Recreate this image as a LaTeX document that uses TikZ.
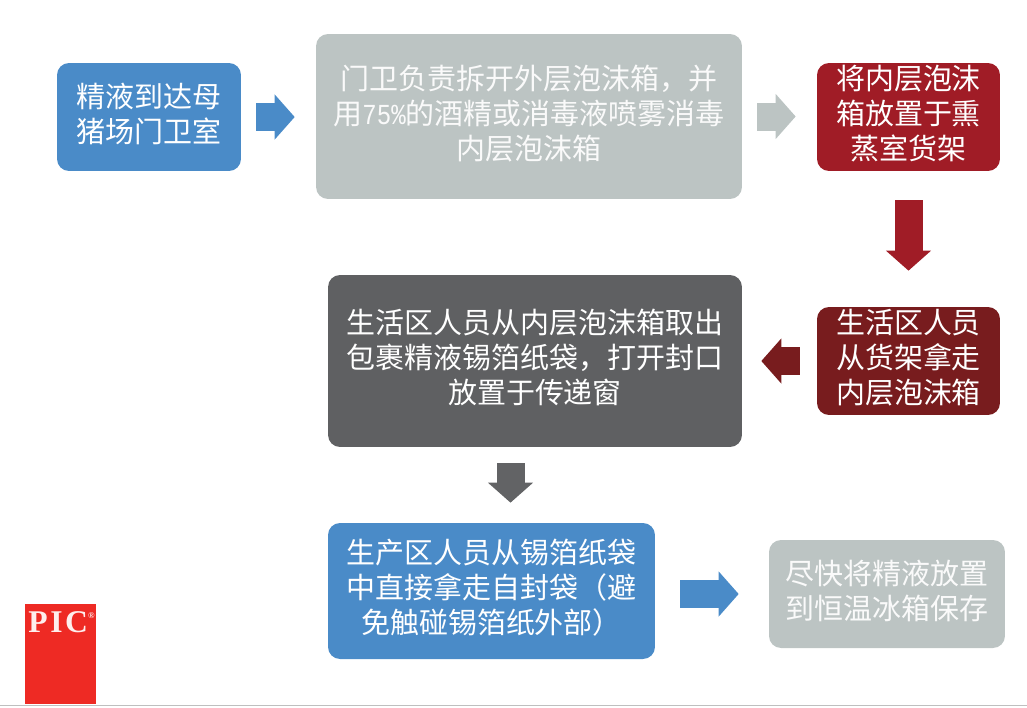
\documentclass[tikz,border=0pt]{standalone}
\usepackage{xcolor}
\usepackage{fontspec}
\usetikzlibrary{arrows.meta}
\newfontfamily\cjk{Noto Sans CJK SC}
\newfontfamily\logofont{Liberation Serif}
\newfontfamily\halfwidth{Liberation Mono}
\definecolor{pigblue}{HTML}{4A8BC8}
\definecolor{palegray}{HTML}{BCC4C3}
\definecolor{brightred}{HTML}{A01C26}
\definecolor{deepred}{HTML}{781C1E}
\definecolor{darkgray}{HTML}{5F6062}
\definecolor{arrowgray}{HTML}{626365}
\definecolor{logored}{HTML}{EE2A24}
\tikzstyle{stage} = [rectangle, rounded corners=0.24cm, inner sep=0pt, text centered, align=center, text=white, text depth=0.18cm, font=\cjk\fontsize{16.5}{19.9}\selectfont]
\tikzstyle{bigarrow} = [line width=0.56cm, -{Triangle[length=0.4cm,width=0.88cm]}]

\begin{document}
\begin{tikzpicture}[x=0.02cm, y=-0.02cm]
\useasboundingbox (0,0) rectangle (1027,707);

\node[stage, fill=pigblue, minimum width=3.68cm, minimum height=2.16cm] (arrive) at (149,117) {精液到达母\\猪场门卫室};
\node[stage, fill=palegray, text=white!92!palegray, minimum width=8.52cm, minimum height=3.3cm] (gate) at (529,116.5) {门卫负责拆开外层泡沫箱，并\\用\scalebox{0.83}[1]{\halfwidth\fontsize{16.5}{19.9}\selectfont 75\%}的酒精或消毒液喷雾消毒\\内层泡沫箱};
\node[stage, fill=brightred, minimum width=3.66cm, minimum height=2.16cm] (fumigate) at (908.5,117) {将内层泡沫\\箱放置于熏\\蒸室货架};
\node[stage, fill=deepred, minimum width=3.66cm, minimum height=2.16cm] (pickup) at (908.5,361) {生活区人员\\从货架拿走\\内层泡沫箱};
\node[stage, fill=darkgray, minimum width=8.28cm, minimum height=3.44cm] (window) at (535,361) {生活区人员从内层泡沫箱取出\\包裹精液锡箔纸袋，打开封口\\放置于传递窗};
\node[stage, fill=pigblue, minimum width=6.54cm, minimum height=2.72cm] (produce) at (491.5,591) {生产区人员从锡箔纸袋\\中直接拿走自封袋（避\\免触碰锡箔纸外部）};
\node[stage, fill=palegray, text=white!92!palegray, minimum width=4.72cm, minimum height=2.16cm] (fridge) at (887,594) {尽快将精液放置\\到恒温冰箱保存};

\coordinate (passx) at (510.5,480);

\draw[bigarrow, pigblue, shorten <=0.3cm, shorten >=0.42cm] (arrive.east) -- (arrive.east -| gate.west);
\draw[bigarrow, palegray, shorten <=0.3cm, shorten >=0.42cm] (gate.east) -- (gate.east -| fumigate.west);
\draw[bigarrow, brightred, shorten <=0.58cm, shorten >=0.72cm] (fumigate.south) -- (pickup.north);
\draw[bigarrow, deepred, shorten <=0.34cm, shorten >=0.38cm] (pickup.west) -- (pickup.west -| window.east);
\draw[bigarrow, arrowgray, shorten <=0.32cm, shorten >=0.4cm] (passx |- window.south) -- (passx |- produce.north);
\draw[bigarrow, pigblue, shorten <=0.5cm, shorten >=0.6cm] (produce.east |- fridge.west) -- (fridge.west);

\node[fill=logored, minimum width=1.42cm, minimum height=2cm, inner sep=0pt] (logo) at (60.5,654) {};
\node[text=white!92!logored, inner sep=0pt, font=\logofont\bfseries\fontsize{18}{18}\selectfont] (logotext) at (61.5,622) {P\hspace{1.5pt}I\hspace{1.5pt}C\raisebox{8pt}{\fontsize{5}{5}\selectfont ®}};

\coordinate (rulel) at (0,705.5);
\coordinate (ruler) at (1027,705.5);
\draw[black!25, line width=0.03cm] (rulel) -- (ruler);
\end{tikzpicture}
\end{document}
